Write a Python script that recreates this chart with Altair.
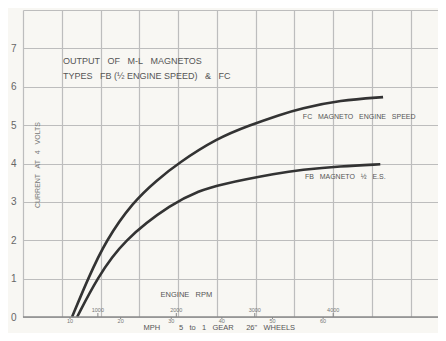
import altair as alt
import pandas as pd

# Curve data (MPH, current in amps)
fc_mph = [10.4, 13.55, 17.1, 22.45, 27.2, 31.3, 39.05, 45.6, 51.5, 55.45, 63.4, 71.85]
fc_amp = [0.0, 1.0, 2.0, 3.0, 3.57, 4.0, 4.66, 5.0, 5.27, 5.43, 5.65, 5.73]
fb_mph = [11.4, 15.3, 20.5, 30.35, 35.7, 39.05, 51.5, 55.45, 63.4, 71.3]
fb_amp = [0.0, 1.0, 2.0, 2.98, 3.29, 3.44, 3.76, 3.83, 3.93, 3.98]

mph_ticks = [10, 20, 30, 40, 50, 60]
rpm_ticks = [1000, 2000, 3000, 4000]
mph_per_1000rpm = 15.5
y_ticks = [0, 1, 2, 3, 4, 5, 6, 7, 8]

# graph-paper layout
x_left = 0.71
grid_step = 7.66
grid_vals = [round(x_left + grid_step * k, 2) for k in range(12)]
x_dom = [x_left, 82.7]

FONT = "Liberation Sans"
INK = "#333333"
GRID = "#bdbdbd"
SP = "\u00a0"


def spaced(s):
    return s.replace("  ", SP + SP + " ")


curves = pd.DataFrame(
    {"mph": fc_mph + fb_mph,
     "amp": fc_amp + fb_amp,
     "series": ["FC"] * len(fc_mph) + ["FB"] * len(fb_mph)}
)

xs = alt.Scale(domain=x_dom, nice=False, zero=False)
ys = alt.Scale(domain=[0, 8], nice=False)


def X(f):
    return alt.X(f, scale=xs, axis=None)


def Y(f):
    return alt.Y(f, scale=ys, axis=None)


lines = alt.Chart(curves).mark_line(interpolate="basis", strokeWidth=2.6, color=INK).encode(
    x=alt.X("mph:Q", scale=xs,
            axis=alt.Axis(values=grid_vals, grid=True, gridColor=GRID, gridWidth=1.2,
                          labels=False, ticks=False, domain=False, title=None)),
    y=alt.Y("amp:Q", scale=ys,
            axis=alt.Axis(values=y_ticks, grid=True, gridColor=GRID, gridWidth=1.2,
                          ticks=False, domain=False, title=None, labelPadding=7,
                          labelOverlap=False,
                          labelFontSize=10, labelColor="#666", labelFont=FONT,
                          labelExpr="datum.value == 8 ? '' : datum.label")),
    detail="series:N",
)

baseline = alt.Chart(pd.DataFrame({"y": [0]})).mark_rule(color="#8a8a8a", strokeWidth=1.5).encode(
    y=Y("y:Q")
)

texts = pd.DataFrame([
    {"x": 8.6, "y": 6.67, "t": spaced("OUTPUT   OF   M-L   MAGNETOS"), "s": 9, "a": "left"},
    {"x": 8.6, "y": 6.27, "t": spaced("TYPES   FB (½ ENGINE SPEED)  &  FC"), "s": 9, "a": "left"},
    {"x": 56.0, "y": 5.21, "t": spaced("FC  MAGNETO  ENGINE  SPEED"), "s": 7, "a": "left"},
    {"x": 56.4, "y": 3.65, "t": spaced("FB  MAGNETO  ½  E.S."), "s": 7, "a": "left"},
    {"x": 33.0, "y": 0.57, "t": spaced("ENGINE  RPM"), "s": 7.5, "a": "center"},
    {"x": 39.5, "y": -0.28, "t": spaced("MPH      5  to  1   GEAR     26\"   WHEELS"), "s": 7.5, "a": "center"},
])
left_txt = alt.Chart(texts[texts.a == "left"]).mark_text(font=FONT, color="#555", baseline="middle", align="left").encode(
    x=X("x:Q"), y=Y("y:Q"), text="t:N",
    size=alt.Size("s:Q", scale=None, legend=None))
center_txt = alt.Chart(texts[texts.a == "center"]).mark_text(font=FONT, color="#555", baseline="middle", align="center").encode(
    x=X("x:Q"), y=Y("y:Q"), text="t:N",
    size=alt.Size("s:Q", scale=None, legend=None))

ytitle = alt.Chart(pd.DataFrame({"x": [3.67], "y": [3.96], "t": [spaced("CURRENT  AT  4  VOLTS")]})).mark_text(
    font=FONT, color="#777", fontSize=7, angle=270, align="center", baseline="middle").encode(
    x=X("x:Q"), y=Y("y:Q"), text="t:N")

mph_df = pd.DataFrame({"mph": mph_ticks, "lab": [str(v) for v in mph_ticks]})
mph_txt = alt.Chart(mph_df).mark_text(font=FONT, color="#777", fontSize=5.5, baseline="middle").encode(
    x=X("mph:Q"), y=alt.value(310.5), text="lab:N")
mph_tk = alt.Chart(mph_df).mark_rule(color="#888", strokeWidth=1).encode(
    x=X("mph:Q"), y=alt.value(307), y2=alt.value(309))

rpm_df = pd.DataFrame({"rpm": rpm_ticks})
rpm_df["mph"] = rpm_df["rpm"] * mph_per_1000rpm / 1000
rpm_df["lab"] = rpm_df["rpm"].astype(str)
rpm_txt = alt.Chart(rpm_df).mark_text(font=FONT, color="#777", fontSize=5.5, baseline="middle").encode(
    x=X("mph:Q"), y=alt.value(300), text="lab:N")
rpm_tk = alt.Chart(rpm_df).mark_rule(color="#888", strokeWidth=1).encode(
    x=X("mph:Q"), y=alt.value(303), y2=alt.value(307))

chart = alt.layer(
    lines, baseline, mph_tk, rpm_tk, left_txt, center_txt, ytitle, mph_txt, rpm_txt
).resolve_axis(
    x="independent", y="independent"
).properties(
    width=415, height=307,
    autosize=alt.AutoSizeParams(type="none"),
    padding={"left": 15, "top": 2, "right": 0, "bottom": 16},
    background="#f8f7f3",
).configure_view(strokeWidth=0)

chart.save("out.html", embed_options={"renderer": "svg", "actions": False})
